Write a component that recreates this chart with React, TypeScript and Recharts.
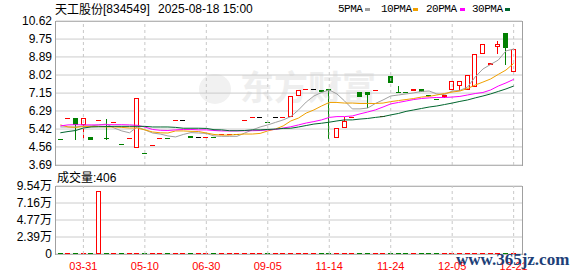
import React from 'react';
import { ComposedChart, Bar, Line, XAxis, YAxis, CartesianGrid, ReferenceLine } from 'recharts';

// ---- data ----
const candleOpen = [
  4.95, 5.93, 5.95, 5.65, 5.04, 5.85, 4.99, 5.74, 4.70, 4.97,
  4.54, 4.26, 4.63, 4.97, 4.99, 5.84, 5.85, 5.07, 5.06, 5.05,
  5.05, 5.17, 5.18, 5.19, 5.86, 5.98, 5.99, 5.78, 5.99, 6.01,
  6.05, 7.06, 7.34, 7.35, 7.30, 7.33, 5.03, 5.50, 5.98, 7.19,
  7.19, 7.28, 6.05, 7.96, 7.21, 7.21, 7.32, 7.35, 7.07, 6.89,
  7.03, 7.33, 7.53, 7.35, 7.49, 9.07, 8.57, 9.42, 10.03, 8.23,
];
const candleHigh = [
  4.95, 5.94, 5.95, 5.94, 5.04, 5.86, 5.90, 5.75, 4.70, 4.98,
  6.90, 4.26, 4.64, 4.98, 4.99, 5.85, 5.85, 5.07, 5.06, 5.06,
  5.05, 5.18, 5.19, 5.19, 5.87, 5.99, 5.99, 5.78, 5.99, 6.02,
  7.01, 7.30, 7.35, 7.35, 7.30, 7.35, 5.46, 6.02, 5.99, 7.19,
  7.19, 7.29, 6.06, 7.96, 7.49, 7.21, 7.33, 7.35, 7.07, 6.89,
  7.04, 7.72, 7.73, 8.01, 9.03, 9.51, 8.58, 9.67, 10.03, 9.26,
];
const candleLow = [
  4.94, 5.93, 4.94, 4.98, 4.96, 5.85, 4.93, 5.74, 4.69, 4.97,
  4.54, 4.25, 4.63, 4.97, 4.98, 5.84, 5.85, 5.06, 5.06, 5.05,
  5.04, 5.17, 5.18, 5.19, 5.86, 5.98, 5.99, 5.77, 5.99, 6.01,
  6.05, 7.06, 7.34, 7.35, 7.24, 5.00, 5.03, 5.50, 5.98, 7.03,
  6.47, 7.28, 6.05, 7.70, 7.20, 7.20, 7.32, 7.24, 7.06, 6.88,
  6.95, 7.33, 7.30, 7.35, 7.49, 9.07, 8.57, 9.07, 8.54, 8.23,
];
const candleClose = [
  4.94, 5.94, 5.66, 5.94, 4.96, 5.86, 4.97, 5.75, 4.69, 4.98,
  6.90, 4.25, 4.64, 4.98, 4.98, 5.85, 5.85, 5.06, 5.06, 5.06,
  5.04, 5.18, 5.19, 5.19, 5.87, 5.99, 5.99, 5.77, 5.99, 6.02,
  7.01, 7.30, 7.35, 7.35, 7.24, 7.29, 5.46, 5.81, 5.99, 7.03,
  7.12, 7.29, 6.06, 7.70, 7.20, 7.20, 7.33, 7.24, 7.06, 6.88,
  7.04, 7.72, 7.73, 8.01, 9.03, 9.51, 8.58, 9.51, 9.38, 9.26,
];
const volumes = [
  900, 600, 1000, 1100, 700, 88000, 900, 500, 600, 400,
  1200, 400, 500, 400, 300, 600, 200, 400, 300, 500,
  500, 300, 400, 200, 600, 500, 300, 400, 300, 500,
  1200, 1000, 700, 400, 600, 1000, 1100, 900, 500, 800,
  900, 500, 700, 1000, 600, 500, 600, 700, 500, 600,
  400, 1000, 800, 1100, 1200, 1100, 700, 1000, 1200, 406,
];
const ma5 = [
  5.52, 5.52, 5.52, 5.57, 5.57, 5.62, 5.66, 5.47, 5.33, 5.24,
  5.52, 5.38, 5.23, 5.18, 5.09, 5.04, 5.16, 5.25, 5.23, 5.21,
  5.09, 5.07, 5.07, 5.07, 5.23, 5.38, 5.52, 5.62, 5.74, 5.86,
  6.02, 6.34, 6.72, 7.01, 7.18, 7.30, 7.11, 6.77, 6.39, 6.39,
  6.43, 6.65, 6.82, 7.01, 7.06, 7.11, 7.16, 7.23, 7.25, 7.11,
  7.08, 7.25, 7.28, 7.44, 7.93, 8.31, 8.53, 8.74, 9.18, 9.27,
];
const ma10 = [
  5.62, 5.52, 5.50, 5.54, 5.54, 5.54, 5.52, 5.52, 5.50, 5.47,
  5.47, 5.38, 5.28, 5.24, 5.23, 5.33, 5.33, 5.31, 5.30, 5.23,
  5.16, 5.13, 5.13, 5.16, 5.18, 5.18, 5.21, 5.33, 5.42, 5.57,
  5.81, 5.95, 6.19, 6.34, 6.53, 6.70, 6.70, 6.67, 6.67, 6.65,
  6.65, 6.65, 6.67, 6.74, 6.79, 6.84, 6.89, 6.96, 6.99, 7.06,
  7.13, 7.20, 7.25, 7.37, 7.54, 7.68, 7.83, 8.05, 8.26, 8.58,
];
const ma20 = [
  5.57, 5.62, 5.63, 5.62, 5.62, 5.62, 5.63, 5.63, 5.63, 5.62,
  5.60, 5.52, 5.40, 5.36, 5.35, 5.38, 5.40, 5.40, 5.38, 5.38,
  5.35, 5.33, 5.33, 5.33, 5.34, 5.34, 5.35, 5.38, 5.40, 5.47,
  5.53, 5.62, 5.71, 5.78, 5.86, 5.98, 6.02, 6.02, 6.05, 6.15,
  6.24, 6.34, 6.48, 6.63, 6.70, 6.77, 6.84, 6.89, 6.92, 6.94,
  6.94, 6.96, 6.99, 7.06, 7.13, 7.18, 7.30, 7.49, 7.64, 7.81,
];
const ma30 = [
  5.24, 5.30, 5.35, 5.47, 5.52, 5.53, 5.54, 5.55, 5.55, 5.55,
  5.55, 5.55, 5.52, 5.52, 5.52, 5.50, 5.46, 5.46, 5.46, 5.45,
  5.39, 5.38, 5.34, 5.34, 5.35, 5.38, 5.38, 5.40, 5.42, 5.45,
  5.46, 5.52, 5.59, 5.66, 5.70, 5.75, 5.81, 5.86, 5.86, 5.90,
  5.93, 5.98, 6.02, 6.10, 6.17, 6.27, 6.34, 6.41, 6.48, 6.53,
  6.60, 6.67, 6.75, 6.82, 6.92, 7.01, 7.11, 7.23, 7.35, 7.49,
];
const xTickIndex = [3, 11, 19, 27, 35, 43, 51, 59];
const xTickLabels = ['03-31', '05-10', '06-30', '09-05', '11-14', '11-24', '12-05', '12-21'];
const priceTicks = [3.69, 4.56, 5.42, 6.29, 7.15, 8.02, 8.89, 9.75, 10.62];
const priceTickLabels = ['3.69', '4.56', '5.42', '6.29', '7.15', '8.02', '8.89', '9.75', '10.62'];
const volTicks = [0, 23850, 47700, 71550, 95400];
const volTickLabels = ['0', '2.39万', '4.77万', '7.16万', '9.54万'];

const data = candleOpen.map((o, i) => ({
  i,
  open: o,
  high: candleHigh[i],
  low: candleLow[i],
  close: candleClose[i],
  vol: volumes[i],
  ma5: ma5[i],
  ma10: ma10[i],
  ma20: ma20[i],
  ma30: ma30[i],
}));

const RED = '#ff0000';
const GREEN = '#008000';
const BLACK = '#000000';
const colorOf = (d: any) => (d.close > d.open ? RED : d.close < d.open ? GREEN : BLACK);

const FONT = "'Liberation Sans', 'Noto Sans CJK SC', sans-serif";
const CJK = "'Noto Sans CJK SC', 'Liberation Sans', sans-serif";

const CandleShape = (props: any) => {
  const { x, y, width, height, payload } = props;
  if (!payload) return null;
  const { open, close, high, low } = payload;
  const span = high - low;
  const k = span > 0 ? height / span : 0;
  const yOf = (v: number) => y + (high - v) * k;
  const cx = Math.floor(x + width / 2);
  const col = colorOf(payload);
  const top = Math.round(yOf(Math.max(open, close)));
  const bot = Math.round(yOf(Math.min(open, close)));
  const yH = Math.round(yOf(high));
  const yL = Math.round(yOf(low));
  let body;
  if (bot - top < 1) {
    body = <rect x={cx - 2} y={top} width={5} height={1} fill={col} />;
  } else if (col === GREEN) {
    body = <rect x={cx - 2} y={top} width={5} height={bot - top + 1} fill={col} />;
  } else {
    body = <rect x={cx - 1.5} y={top + 0.5} width={4} height={bot - top} fill="#fff" stroke={col} strokeWidth={1} />;
  }
  return (
    <g>
      {yL > yH && <line x1={cx + 0.5} x2={cx + 0.5} y1={yH} y2={yL + 1} stroke={col} strokeWidth={1} />}
      {body}
    </g>
  );
};

const VolShape = (props: any) => {
  const { x, y, width, height, payload } = props;
  if (!payload) return null;
  const cx = Math.floor(x + width / 2);
  const col = colorOf(payload) === GREEN ? GREEN : RED;
  const bottom = Math.round(y + height);
  const top = Math.round(y);
  if (bottom - top < 2) {
    return <rect x={cx - 2} y={bottom - 1} width={5} height={1} fill={col} />;
  }
  if (col === GREEN) {
    return <rect x={cx - 2} y={top} width={5} height={bottom - top} fill={col} />;
  }
  return <rect x={cx - 1.5} y={top + 0.5} width={4} height={bottom - top - 1} fill="#fff" stroke={col} strokeWidth={1} />;
};

const xPad = { left: 0.5, right: 4.5 };

export default function App() {
  const abs = (s: React.CSSProperties): React.CSSProperties => ({ position: 'absolute', ...s });
  return (
    <div style={abs({ left: 0, top: 0, width: 578, height: 276, background: '#fff', overflow: 'hidden' })}>
      {/* panel borders */}
      <div style={abs({ left: 55, top: 21, width: 466, height: 143, border: '1px solid #a0a0a0' })} />
      <div style={abs({ left: 55, top: 186, width: 466, height: 67, border: '1px solid #a0a0a0' })} />
      {/* background watermark */}
      <div style={abs({ left: 199, top: 74, width: 32, height: 30, borderRadius: '50%', background: '#f1f1f1' })} />
      <div style={abs({ left: 240, top: 66, fontFamily: CJK, fontSize: 34, fontWeight: 700, color: '#eeeeee', lineHeight: '40px', whiteSpace: 'nowrap' })}>
        东方财富
      </div>

      <div style={abs({ left: 0, top: 0 })}>
        <ComposedChart width={578} height={180} data={data} margin={{ top: 21, right: 56, bottom: 15, left: 0 }}>
          <CartesianGrid vertical={false} stroke="#cccccc" />
          <XAxis dataKey="i" type="category" hide padding={xPad} />
          <YAxis
            type="number"
            domain={[3.69, 10.62]}
            ticks={priceTicks}
            interval={0}
            allowDataOverflow
            width={56}
            tickLine={false}
            axisLine={false}
            tickSize={0}
            tickMargin={4}
            tick={{ fontSize: 12, fill: '#000', fontFamily: FONT }}
            tickFormatter={(v: number) => priceTickLabels[priceTicks.indexOf(v)]}
          />
          {xTickIndex.map((v) => (
            <ReferenceLine key={v} x={v} stroke="#c8c8c8" strokeDasharray="3 3" />
          ))}
          <Bar dataKey={(d: any) => [d.low, d.high]} barSize={5} shape={CandleShape} isAnimationActive={false} />
          <Line dataKey="ma5" stroke="#a0a0a0" strokeWidth={1} dot={false} activeDot={false} isAnimationActive={false} />
          <Line dataKey="ma10" stroke="#f0a000" strokeWidth={1} dot={false} activeDot={false} isAnimationActive={false} />
          <Line dataKey="ma20" stroke="#ff00ff" strokeWidth={1} dot={false} activeDot={false} isAnimationActive={false} />
          <Line dataKey="ma30" stroke="#00662e" strokeWidth={1} dot={false} activeDot={false} isAnimationActive={false} />
        </ComposedChart>
      </div>

      <div style={abs({ left: 0, top: 170 })}>
        <ComposedChart width={578} height={106} data={data} margin={{ top: 16, right: 56, bottom: 0, left: 0 }}>
          <CartesianGrid vertical={false} stroke="#cccccc" />
          <XAxis
            dataKey="i"
            type="category"
            padding={xPad}
            ticks={xTickIndex}
            interval={0}
            height={22}
            tickLine={false}
            axisLine={false}
            tickSize={0}
            tickMargin={8}
            tick={{ fontSize: 11, fill: '#ff0000', fontFamily: FONT }}
            tickFormatter={(v: number) => xTickLabels[xTickIndex.indexOf(v)]}
          />
          <YAxis
            type="number"
            domain={[0, 95400]}
            ticks={volTicks}
            interval={0}
            allowDataOverflow
            width={56}
            tickLine={false}
            axisLine={false}
            tickSize={0}
            tickMargin={4}
            tick={{ fontSize: 12, fill: '#000', fontFamily: FONT }}
            tickFormatter={(v: number) => volTickLabels[volTicks.indexOf(v)]}
          />
          {xTickIndex.map((v) => (
            <ReferenceLine key={v} x={v} stroke="#c8c8c8" strokeDasharray="3 3" />
          ))}
          <Bar dataKey="vol" barSize={5} shape={VolShape} isAnimationActive={false} />
        </ComposedChart>
      </div>

      {/* header */}
      <div style={abs({ left: 55, top: 2, fontFamily: CJK, fontSize: 12, lineHeight: '14px', color: '#000', whiteSpace: 'nowrap' })}>天工股份</div>
      <div style={abs({ left: 103, top: 2, fontFamily: FONT, fontSize: 12, lineHeight: '14px', color: '#000', whiteSpace: 'nowrap' })}>[834549]</div>
      <div style={abs({ left: 158, top: 2, fontFamily: FONT, fontSize: 12, lineHeight: '14px', color: '#000', whiteSpace: 'nowrap' })}>2025-08-18 15:00</div>

      {/* legend */}
      {[
        { t: '5PMA', x: 338, sx: 365, c: '#a0a0a0' },
        { t: '10PMA', x: 381, sx: 413, c: '#f0a000' },
        { t: '20PMA', x: 426, sx: 460, c: '#ff00ff' },
        { t: '30PMA', x: 472, sx: 505, c: '#00662e' },
      ].map((l) => (
        <React.Fragment key={l.t}>
          <div style={abs({ left: l.x, top: 3, fontFamily: "'Liberation Mono', monospace", fontSize: 11, letterSpacing: -0.5, lineHeight: '12px', color: '#000', whiteSpace: 'nowrap' })}>{l.t}</div>
          <div style={abs({ left: l.sx, top: 8, width: 5, height: 3, background: l.c })} />
        </React.Fragment>
      ))}

      <div style={abs({ left: 57, top: 170, fontFamily: CJK, fontSize: 12, lineHeight: '14px', color: '#000', whiteSpace: 'nowrap' })}>
        成交量<span style={{ fontFamily: FONT }}>:406</span>
      </div>

      <div style={abs({ left: 456, top: 251, fontFamily: "'Liberation Serif', serif", fontWeight: 700, fontSize: 17, lineHeight: '18px', color: '#1d3f78', whiteSpace: 'nowrap' })}>
        www.365jz.com
      </div>
    </div>
  );
}
